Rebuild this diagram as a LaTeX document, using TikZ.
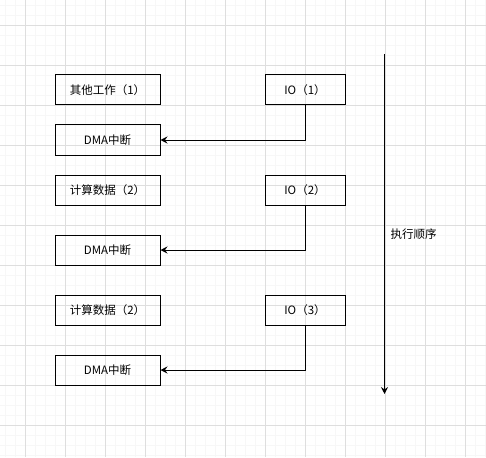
\documentclass[tikz,border=0pt]{standalone}
\usepackage{fontspec}
\setmainfont{Noto Sans CJK SC}
\usetikzlibrary{arrows.meta}
\begin{document}
\begin{tikzpicture}[x=1pt,y=-1pt,
  box/.style={draw=black,line width=1pt,minimum width=105pt,minimum height=30pt,inner sep=0pt,font=\fontsize{11.5}{12}\selectfont,anchor=north west},
  iobox/.style={box,minimum width=80pt},
  conn/.style={draw=black,line width=1pt,-{Stealth[length=7pt,width=7pt,inset=2.5pt]}},
  minorgrid/.style={draw=black!3,line width=0.6pt},
  majorgrid/.style={draw=black!13,line width=0.8pt}]
\fill[white] (0,0) rectangle (486,457);
\useasboundingbox (0,0) rectangle (486,457);
\foreach \i in {5,15,...,485} \draw[minorgrid] (\i,0) -- (\i,457);
\foreach \j in {5,15,...,455} \draw[minorgrid] (0,\j) -- (486,\j);
\foreach \i in {25,65,...,465} \draw[majorgrid] (\i,0) -- (\i,457);
\foreach \j in {25,65,...,425} \draw[majorgrid] (0,\j) -- (486,\j);

\node[box] (w1) at (54.5,74.5) {其他工作（1）};
\node[iobox] (io1) at (264.5,74.5) {IO（1）};
\node[box] (d1) at (54.5,124.5) {DMA中断};

\node[box] (w2) at (54.5,174.5) {计算数据（2）};
\node[iobox] (io2) at (264.5,174.5) {IO（2）};
\node[box] (d2) at (54.5,234.5) {DMA中断};

\node[box] (w3) at (54.5,294.5) {计算数据（2）};
\node[iobox] (io3) at (264.5,294.5) {IO（3）};
\node[box] (d3) at (54.5,354.5) {DMA中断};

\draw[conn] (io1.south) |- (d1.east);
\draw[conn] (io2.south) |- (d2.east);
\draw[conn] (io3.south) |- (d3.east);

\coordinate (tstart) at (384.5,54);
\coordinate (tend) at (384.5,394);
\draw[conn] (tstart) -- (tend);
\node[anchor=west,inner sep=0pt,font=\fontsize{11.5}{12}\selectfont] (lbl) at (390.5,234) {执行顺序};
\end{tikzpicture}
\end{document}
